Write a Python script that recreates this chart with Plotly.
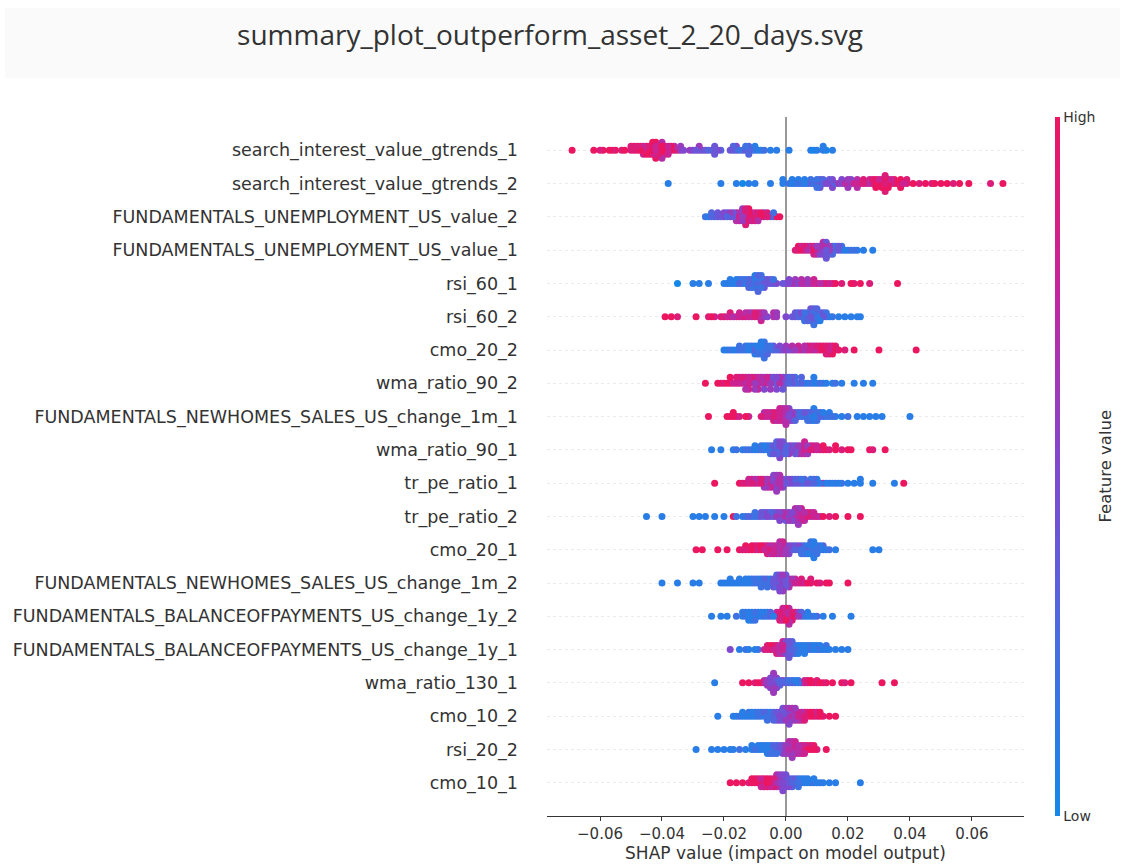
import numpy as np
import plotly.graph_objects as go

# Feature names, top row first
features = [
    "search_interest_value_gtrends_1",
    "search_interest_value_gtrends_2",
    "FUNDAMENTALS_UNEMPLOYMENT_US_value_2",
    "FUNDAMENTALS_UNEMPLOYMENT_US_value_1",
    "rsi_60_1",
    "rsi_60_2",
    "cmo_20_2",
    "wma_ratio_90_2",
    "FUNDAMENTALS_NEWHOMES_SALES_US_change_1m_1",
    "wma_ratio_90_1",
    "tr_pe_ratio_1",
    "tr_pe_ratio_2",
    "cmo_20_1",
    "FUNDAMENTALS_NEWHOMES_SALES_US_change_1m_2",
    "FUNDAMENTALS_BALANCEOFPAYMENTS_US_change_1y_2",
    "FUNDAMENTALS_BALANCEOFPAYMENTS_US_change_1y_1",
    "wma_ratio_130_1",
    "cmo_10_2",
    "rsi_20_2",
    "cmo_10_1",
]

# Each entry: (SHAP value in thousandths, feature value in tenths (0=low,10=high), number of samples)
r01 = [(-69,10,1),(-62,10,1),(-60,9,1),(-59,10,1),(-57,10,1),(-56,9,1),(-55,10,1),(-53,9,1),(-52,10,1),(-50,9,2),(-49,10,2),(-48,9,2),(-47,10,2),(-46,8,3),(-45,10,3),(-44,9,3),(-43,10,4),(-42,8,3),(-42,10,2),(-41,9,3),(-40,10,3),(-40,7,2),(-39,9,3),(-38,8,3),(-37,10,2),(-36,7,2),(-35,9,1),(-34,6,2),(-33,5,1),(-31,6,1),(-30,5,1),(-29,4,1),(-28,6,2),(-27,4,1),(-26,5,1),(-25,3,1),(-24,6,1),(-23,4,3),(-22,5,1),(-21,3,1),(-18,4,1),(-17,3,2),(-16,5,2),(-15,2,1),(-14,4,1),(-13,2,2),(-12,3,3),(-11,2,1),(-10,1,2),(-9,2,1),(-8,1,1),(-7,2,1),(-5,1,1),(-3,1,1),(1,1,1),(8,1,1),(9,0,1),(10,1,1),(12,1,2),(13,0,1),(15,1,1)]
r02 = [(-38,1,1),(-21,1,1),(-16,1,1),(-14,0,1),(-12,1,1),(-10,1,1),(-5,1,1),(-1,1,2),(1,2,1),(2,1,2),(3,2,1),(4,1,2),(5,2,1),(6,1,2),(7,3,1),(8,2,2),(9,3,1),(10,2,2),(11,4,3),(12,3,2),(13,5,1),(14,4,2),(15,5,3),(16,3,1),(17,6,1),(18,5,2),(19,7,1),(20,6,3),(21,5,2),(22,8,1),(23,7,2),(24,8,1),(25,9,2),(26,7,1),(27,8,2),(28,9,2),(29,10,3),(30,8,2),(31,10,3),(32,9,5),(33,10,3),(34,8,2),(35,10,2),(36,9,1),(37,10,2),(38,8,1),(39,9,2),(41,10,1),(43,9,1),(45,10,1),(47,9,1),(48,10,1),(50,10,1),(52,10,1),(54,9,1),(56,10,1),(59,10,1),(66,9,1),(70,10,1)]
r03 = [(-26,2,1),(-25,1,1),(-24,3,2),(-23,2,1),(-22,4,2),(-21,2,1),(-20,5,2),(-19,3,2),(-18,6,2),(-17,4,2),(-16,7,3),(-15,8,3),(-14,6,4),(-13,9,5),(-12,10,4),(-11,8,3),(-10,9,3),(-9,7,3),(-8,10,2),(-7,4,2),(-6,9,2),(-5,3,1),(-4,2,2),(-3,10,1),(-2,10,1)]
r04 = [(3,9,1),(4,10,2),(5,8,2),(6,9,2),(7,7,2),(8,10,2),(9,8,3),(10,6,3),(11,5,3),(12,7,4),(13,4,5),(14,6,3),(15,3,3),(16,2,2),(17,4,2),(18,2,2),(19,1,1),(20,2,1),(21,1,1),(22,2,1),(23,1,1),(25,1,1),(28,1,1)]
r05 = [(-35,0,1),(-30,1,1),(-28,1,1),(-25,1,1),(-20,1,1),(-19,2,1),(-18,1,2),(-17,2,1),(-16,1,2),(-15,3,2),(-14,2,2),(-13,1,2),(-12,3,3),(-11,2,3),(-10,1,4),(-9,3,5),(-8,2,4),(-7,4,3),(-6,3,2),(-5,4,2),(-4,2,2),(-3,5,1),(-1,4,1),(0,6,1),(1,5,2),(2,7,1),(3,6,2),(4,5,1),(5,7,2),(6,8,1),(7,6,2),(8,7,1),(9,8,2),(10,9,1),(11,7,1),(12,8,1),(13,9,1),(14,8,1),(15,9,1),(16,10,1),(18,9,1),(21,10,1),(22,9,1),(24,10,1),(27,9,1),(36,10,1)]
r06 = [(-39,10,1),(-37,10,1),(-35,9,1),(-29,10,1),(-25,9,1),(-24,10,1),(-23,8,1),(-21,9,1),(-20,10,1),(-19,8,1),(-18,9,2),(-17,7,1),(-16,10,1),(-15,8,2),(-14,9,1),(-13,7,2),(-12,8,2),(-11,6,2),(-10,9,2),(-9,7,2),(-8,8,3),(-7,6,2),(-6,5,1),(-4,7,2),(-3,6,2),(0,5,1),(2,4,1),(3,4,2),(4,3,2),(5,5,2),(6,2,3),(7,3,3),(8,4,4),(9,2,5),(10,3,4),(11,1,3),(12,4,2),(13,2,2),(14,1,1),(15,2,1),(17,1,1),(19,1,1),(21,1,1),(23,1,1),(24,1,1)]
r07 = [(-20,1,1),(-19,1,1),(-18,2,1),(-17,1,1),(-16,1,1),(-15,2,2),(-14,1,1),(-13,2,2),(-12,1,2),(-11,3,2),(-10,1,3),(-9,2,3),(-8,1,4),(-7,2,5),(-6,3,3),(-5,2,2),(-4,4,2),(-3,3,1),(-2,5,2),(-1,4,1),(0,6,2),(1,5,1),(2,7,2),(3,6,1),(4,8,2),(5,6,1),(6,7,2),(7,9,2),(8,8,2),(9,7,2),(10,9,2),(11,8,2),(12,10,2),(13,9,3),(14,8,3),(15,10,3),(16,9,2),(17,10,1),(19,9,1),(22,10,1),(30,10,1),(42,10,1)]
r08 = [(-26,10,1),(-22,10,1),(-21,9,1),(-20,10,1),(-19,9,1),(-18,10,2),(-17,8,1),(-16,9,2),(-15,8,2),(-14,9,2),(-13,7,3),(-12,8,3),(-11,9,2),(-10,6,3),(-9,8,3),(-8,7,2),(-7,5,3),(-6,8,2),(-5,6,3),(-4,4,2),(-3,5,3),(-2,7,2),(-1,4,3),(0,5,2),(1,3,2),(2,4,2),(3,2,2),(4,4,1),(5,3,2),(6,1,1),(7,2,1),(8,3,1),(9,1,2),(10,1,1),(11,2,1),(12,1,1),(13,1,1),(15,1,1),(16,2,1),(18,1,1),(22,1,1),(25,1,1),(28,1,1)]
r09 = [(-25,10,1),(-19,10,1),(-18,9,1),(-17,10,2),(-16,8,1),(-15,9,1),(-13,10,1),(-12,8,1),(-8,9,1),(-7,7,2),(-6,8,2),(-5,6,2),(-4,9,3),(-3,7,3),(-2,8,4),(-1,6,4),(0,7,5),(1,5,4),(2,6,3),(3,3,3),(4,4,2),(5,2,2),(6,4,2),(7,2,3),(8,3,3),(9,1,4),(10,2,3),(11,3,2),(12,1,2),(13,2,1),(14,1,2),(15,2,1),(16,1,1),(18,1,1),(20,2,1),(23,1,1),(25,1,1),(27,1,1),(29,1,1),(31,1,1),(40,1,1)]
r10 = [(-24,1,1),(-21,1,1),(-17,1,1),(-16,2,1),(-14,1,1),(-13,2,1),(-12,1,1),(-11,2,1),(-10,1,2),(-9,3,1),(-8,2,2),(-7,1,2),(-6,3,2),(-5,2,3),(-4,4,3),(-3,3,4),(-2,5,5),(-1,4,4),(0,3,3),(1,6,3),(2,5,2),(3,4,3),(4,6,3),(5,7,3),(6,8,4),(7,6,3),(8,9,2),(9,7,2),(10,8,2),(11,9,1),(12,10,2),(13,8,1),(14,9,1),(16,10,2),(18,9,1),(20,10,1),(21,10,1),(27,10,1),(28,9,1),(32,10,1)]
r11 = [(-23,10,1),(-15,10,1),(-14,9,1),(-13,10,1),(-12,8,2),(-11,9,2),(-10,7,2),(-9,8,2),(-8,9,2),(-7,6,3),(-6,7,3),(-5,8,3),(-4,5,4),(-3,6,5),(-2,7,4),(-1,5,3),(0,4,2),(1,5,2),(2,4,2),(3,3,2),(4,4,2),(5,2,2),(6,3,2),(7,4,1),(8,2,2),(9,3,2),(10,1,2),(11,2,1),(12,7,1),(13,1,1),(14,2,1),(15,1,1),(16,3,1),(17,1,1),(18,2,1),(20,1,1),(22,1,1),(24,1,2),(28,1,1),(35,1,1),(38,10,1)]
r12 = [(-45,1,1),(-40,1,1),(-30,1,1),(-28,1,1),(-26,1,1),(-23,1,1),(-20,1,1),(-17,10,1),(-16,2,1),(-14,1,1),(-13,2,1),(-12,3,1),(-11,1,1),(-10,2,2),(-9,3,1),(-8,4,2),(-7,2,2),(-6,5,2),(-5,3,2),(-4,4,2),(-3,6,2),(-2,5,3),(-1,7,2),(0,4,3),(1,6,3),(2,5,3),(3,7,4),(4,6,5),(5,8,4),(6,7,3),(7,9,2),(8,6,2),(9,8,2),(10,9,1),(11,7,1),(12,10,1),(14,9,1),(16,10,1),(20,10,1),(24,10,1)]
r13 = [(-29,10,1),(-27,10,1),(-22,10,1),(-19,10,1),(-15,10,1),(-14,9,1),(-13,10,2),(-12,9,1),(-11,10,2),(-10,8,2),(-9,9,2),(-8,10,2),(-7,8,2),(-6,9,3),(-5,7,3),(-4,8,3),(-3,6,3),(-2,7,4),(-1,8,4),(0,6,3),(1,5,3),(2,4,2),(3,3,2),(4,5,2),(5,2,3),(6,3,3),(7,1,3),(8,2,4),(9,1,5),(10,2,3),(11,1,2),(12,3,2),(13,1,1),(14,2,1),(16,1,1),(28,1,1),(30,1,1)]
r14 = [(-40,1,1),(-35,1,1),(-30,1,1),(-28,1,1),(-21,1,1),(-20,2,1),(-19,1,1),(-18,1,2),(-17,2,1),(-16,1,1),(-15,1,2),(-14,2,1),(-13,1,2),(-12,1,2),(-11,3,2),(-10,2,2),(-9,1,2),(-8,2,3),(-7,3,2),(-6,2,3),(-5,1,2),(-4,4,3),(-3,3,4),(-2,5,5),(-1,6,5),(0,4,4),(1,7,3),(2,6,2),(3,8,2),(4,7,1),(5,9,2),(6,8,1),(7,10,1),(8,9,2),(10,10,1),(11,9,1),(13,10,1),(14,10,1),(20,10,1)]
r15 = [(-24,1,1),(-21,1,1),(-19,1,1),(-16,2,1),(-14,1,2),(-13,2,2),(-12,1,3),(-11,1,3),(-10,2,3),(-9,1,2),(-8,1,2),(-7,2,2),(-6,1,2),(-5,3,2),(-4,1,1),(-3,7,2),(-2,9,3),(-1,8,4),(0,10,4),(1,7,5),(2,9,3),(3,10,2),(4,6,2),(5,3,2),(6,2,1),(7,1,2),(8,2,1),(9,1,1),(10,3,1),(12,1,1),(15,1,1),(21,1,1)]
r16 = [(-18,5,1),(-15,1,1),(-13,2,1),(-12,1,1),(-10,1,1),(-9,2,1),(-7,8,1),(-6,9,2),(-5,10,2),(-4,8,2),(-3,9,3),(-2,7,3),(-1,8,4),(0,5,4),(1,4,5),(2,3,4),(3,2,3),(4,1,3),(5,2,2),(6,1,3),(7,2,2),(8,1,2),(9,1,2),(10,2,2),(11,1,2),(12,1,1),(13,2,2),(14,1,1),(16,1,1),(18,1,1),(20,1,1)]
r17 = [(-23,1,1),(-14,10,1),(-12,10,1),(-10,9,1),(-9,10,1),(-8,10,1),(-7,7,2),(-6,6,3),(-5,5,5),(-4,4,4),(-4,6,5),(-3,5,5),(-2,3,3),(-1,6,2),(0,3,2),(1,2,2),(2,3,2),(3,1,2),(4,2,2),(5,4,1),(6,8,2),(7,9,2),(8,10,2),(9,8,1),(10,9,2),(11,10,1),(12,9,1),(13,10,1),(15,10,1),(18,10,1),(19,9,1),(21,10,1),(31,10,1),(35,10,1)]
r18 = [(-22,1,1),(-17,1,1),(-16,1,1),(-15,2,1),(-14,1,2),(-13,1,1),(-12,2,2),(-11,1,2),(-10,1,2),(-9,2,2),(-8,1,2),(-7,3,2),(-6,2,3),(-5,1,2),(-4,3,3),(-3,4,3),(-2,5,3),(-1,4,4),(0,6,4),(1,5,5),(2,7,4),(3,6,4),(4,8,3),(5,7,3),(6,9,3),(7,8,2),(8,10,2),(9,9,2),(10,8,2),(11,10,2),(12,9,1),(14,10,1),(16,10,1)]
r19 = [(-29,1,1),(-24,1,1),(-22,1,1),(-20,1,1),(-18,1,1),(-17,1,1),(-15,2,1),(-13,1,1),(-11,1,2),(-10,2,1),(-9,1,2),(-8,1,2),(-7,2,2),(-6,1,3),(-5,2,3),(-4,3,3),(-3,2,3),(-2,4,2),(-1,5,3),(0,6,3),(1,7,4),(2,6,5),(3,8,4),(4,7,3),(5,9,3),(6,8,3),(7,10,2),(8,9,2),(9,10,2),(10,9,1),(13,10,1)]
r20 = [(-18,10,1),(-16,10,1),(-14,10,1),(-12,9,1),(-11,10,2),(-10,9,2),(-9,10,2),(-8,8,3),(-7,9,3),(-6,10,3),(-5,8,3),(-4,9,3),(-3,7,4),(-2,6,4),(-1,5,5),(0,4,4),(1,5,3),(2,3,3),(3,4,2),(4,2,3),(5,1,2),(6,2,2),(7,1,2),(8,2,1),(9,1,2),(10,1,1),(11,2,1),(12,1,1),(14,1,1),(16,1,1),(24,1,1)]

rows = [r01, r02, r03, r04, r05, r06, r07, r08, r09, r10,
        r11, r12, r13, r14, r15, r16, r17, r18, r19, r20]

xtick_vals = [-0.06, -0.04, -0.02, 0.0, 0.02, 0.04, 0.06]

# SHAP-style red/blue colormap
colorscale = [
    [0.0, "rgb(20,136,232)"],
    [0.25, "rgb(72,108,226)"],
    [0.5, "rgb(128,72,206)"],
    [0.75, "rgb(196,38,158)"],
    [1.0, "rgb(236,22,96)"],
]

n = len(features)
row_height = 0.4
nbins = 100
X, Y, C = [], [], []
for i, pts in enumerate(rows):
    pos = n - 1 - i
    sv, fv = [], []
    for s, f, c in pts:
        for _ in range(c):
            sv.append(s / 1000.0)
            fv.append(f / 10.0)
    shaps = np.array(sv)
    vals = np.array(fv)
    N = len(shaps)
    # beeswarm layout (same scheme as shap's summary plot)
    quant = np.round(nbins * (shaps - shaps.min()) / (shaps.max() - shaps.min() + 1e-8))
    inds = np.argsort(quant, kind="stable")
    layer = 0
    last_bin = -1
    ys = np.zeros(N)
    for ind in inds:
        if quant[ind] != last_bin:
            layer = 0
        ys[ind] = np.ceil(layer / 2) * ((layer % 2) * 2 - 1)
        layer += 1
        last_bin = quant[ind]
    ys *= 0.9 * (row_height / np.max(ys + 1))
    X.extend(shaps.tolist())
    Y.extend((pos + ys).tolist())
    C.extend(vals.tolist())

# drawing order mixing (visual only)
order = np.random.default_rng(3).permutation(len(X))
X = np.array(X)[order]
Y = np.array(Y)[order]
C = np.array(C)[order]

W, H = 1125, 868
L, R, T, B = 547, 101, 117, 52
pw, ph = W - L - R, H - T - B

def px_x(p):
    return (p - L) / pw

def px_y(p):
    return (H - B - p) / ph

fig = go.Figure()
fig.add_trace(go.Scatter(
    x=X, y=Y, mode="markers",
    marker=dict(
        size=7, color=C, colorscale=colorscale, cmin=0, cmax=1,
        line=dict(width=0),
        colorbar=dict(
            x=px_x(1055), xanchor="left", xref="paper", xpad=0,
            y=0.5, yanchor="middle", len=1.0, lenmode="fraction", ypad=0,
            thickness=5, outlinewidth=0,
            tickvals=[0, 1], ticktext=["Low", "High"], ticks="",
            tickfont=dict(family="DejaVu Sans", size=14, color="#333333"),
        ),
    ),
    hoverinfo="skip", showlegend=False,
))

fig.update_layout(
    width=W, height=H,
    margin=dict(l=L, r=R, t=T, b=B, pad=0),
    paper_bgcolor="white", plot_bgcolor="white",
    title=dict(
        text="summary_plot_outperform_asset_2_20_days.svg",
        x=550 / W, xanchor="center", xref="container",
        y=1 - 35 / H, yanchor="middle", yref="container",
        font=dict(family="Open Sans", size=28, color="#333333"),
    ),
    xaxis=dict(
        range=[-0.0771, 0.0768],
        tickvals=xtick_vals, tickformat=".2f",
        showgrid=False,
        zeroline=True, zerolinecolor="#999999", zerolinewidth=1.5,
        showline=True, linecolor="#333333", linewidth=1,
        ticks="outside", ticklen=4, tickcolor="#333333",
        tickfont=dict(family="DejaVu Sans", size=15, color="#333333"),
        title=dict(text="SHAP value (impact on model output)", standoff=4,
                   font=dict(family="DejaVu Sans", size=17, color="#333333")),
        automargin=False,
    ),
    yaxis=dict(
        range=[-1, n],
        tickvals=list(range(n)),
        ticktext=features[::-1],
        showgrid=True, gridcolor="#ebebeb", griddash="dot", gridwidth=1,
        zeroline=False, showline=False, ticks="",
        ticklabelstandoff=28,
        tickfont=dict(family="DejaVu Sans", size=17.5, color="#333333"),
        automargin=False,
    ),
    shapes=[dict(
        type="rect", xref="paper", yref="paper",
        x0=px_x(5), x1=px_x(1120), y0=px_y(78), y1=px_y(8),
        fillcolor="#fafafa", line=dict(width=0), layer="below",
    )],
    annotations=[dict(
        text="Feature value", xref="paper", yref="paper",
        x=px_x(1105), y=0.5, textangle=-90, showarrow=False,
        xanchor="center", yanchor="middle",
        font=dict(family="DejaVu Sans", size=16.5, color="#333333"),
    )],
)

fig.write_html("out.html")
